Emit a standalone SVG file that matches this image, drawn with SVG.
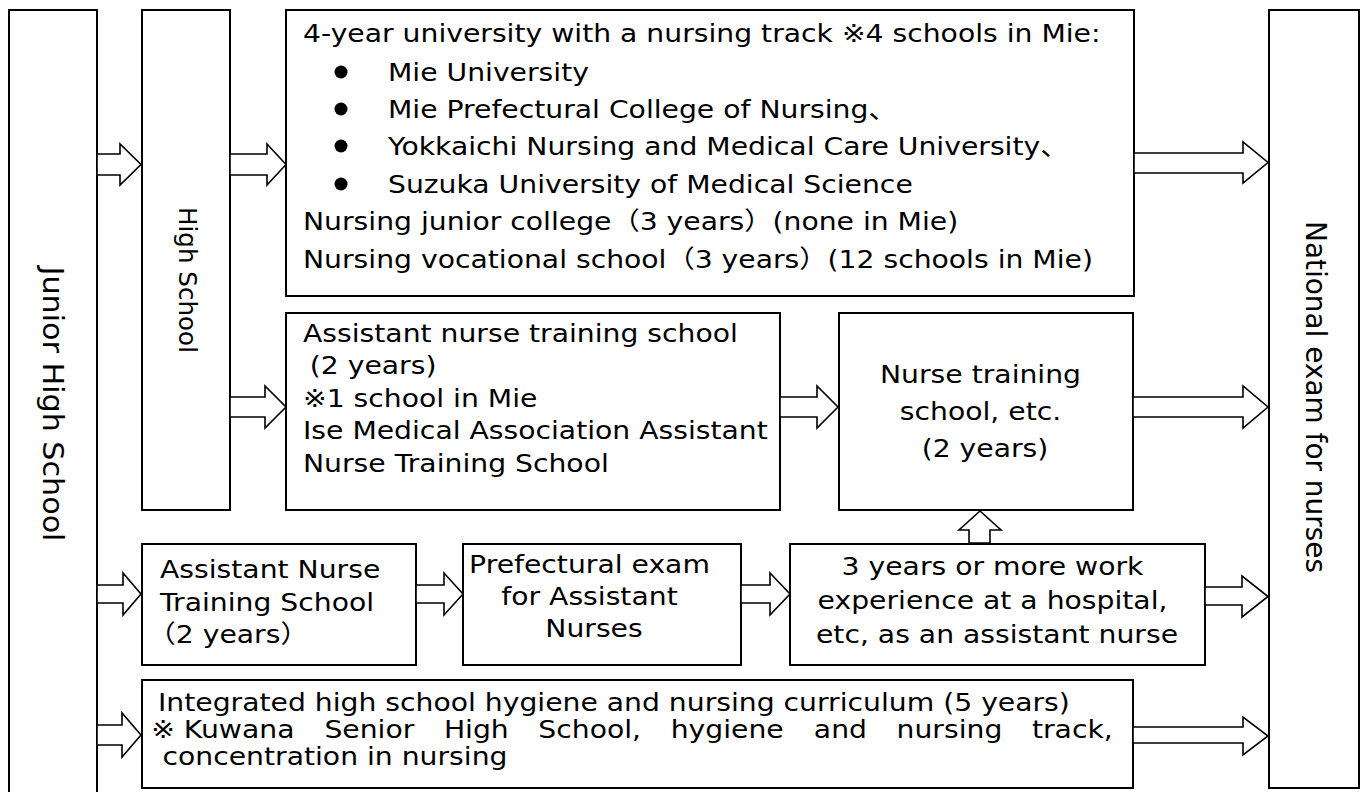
<svg xmlns="http://www.w3.org/2000/svg" width="1365" height="792" viewBox="0 0 1365 792">
<style>
.box{fill:#fff;stroke:#000;stroke-width:2}
.arr{fill:#fff;stroke:#000;stroke-width:1.6;stroke-linejoin:miter}
.t{font-family:"DejaVu Sans","Noto Sans CJK JP",sans-serif;font-size:25px;fill:#000}
.v{font-family:"DejaVu Sans","Noto Sans CJK JP",sans-serif;fill:#000;text-anchor:middle;dominant-baseline:central}
.c{text-anchor:middle}
</style>
<rect width="1365" height="792" fill="#fff"/>

<g id="junior-high">
<rect class="box" x="9" y="10" width="88" height="800"/>
<text class="v" font-size="29" transform="translate(53,404) rotate(90)" textLength="275" lengthAdjust="spacingAndGlyphs">Junior High School</text>
</g>

<g id="high-school">
<rect class="box" x="142" y="10" width="88" height="500"/>
<text class="v" font-size="25" transform="translate(187,280) rotate(90)" textLength="146" lengthAdjust="spacingAndGlyphs">High School</text>
</g>

<g id="university">
<rect class="box" x="286" y="10" width="848" height="286"/>
<circle cx="341" cy="72" r="6.5"/>
<circle cx="341" cy="109" r="6.5"/>
<circle cx="341" cy="146" r="6.5"/>
<circle cx="341" cy="184" r="6.5"/>
<text class="t" transform="translate(303,0) scale(1.13,1)">
<tspan x="0" y="42">4-year university with a nursing track ※4 schools in Mie:</tspan>
<tspan x="75.2" y="81">Mie University</tspan>
<tspan x="75.2" y="118">Mie Prefectural College of Nursing、</tspan>
<tspan x="75.2" y="155">Yokkaichi Nursing and Medical Care University、</tspan>
<tspan x="75.2" y="193">Suzuka University of Medical Science</tspan>
<tspan x="0" y="230">Nursing junior college（3 years）(none in Mie)</tspan>
<tspan x="0" y="268">Nursing vocational school（3 years）(12 schools in Mie)</tspan>
</text>
</g>

<g id="assistant-nurse-school-hs">
<rect class="box" x="286" y="313" width="494" height="197"/>
<text class="t" transform="translate(303,0) scale(1.13,1)">
<tspan x="0" y="342">Assistant nurse training school</tspan>
<tspan x="6" y="374">(2 years)</tspan>
<tspan x="0" y="407">※1 school in Mie</tspan>
<tspan x="0" y="439">Ise Medical Association Assistant</tspan>
<tspan x="0" y="472">Nurse Training School</tspan>
</text>
</g>

<g id="nurse-training-school">
<rect class="box" x="839" y="313" width="294" height="197"/>
<text class="t c" transform="translate(985,0) scale(1.13,1)">
<tspan x="0" y="383">Nurse training</tspan>
<tspan x="0" y="420">school, etc.</tspan>
<tspan x="0" y="457">(2 years)</tspan>
</text>
</g>

<g id="national-exam">
<rect class="box" x="1269" y="10" width="90" height="778"/>
<text class="v" font-size="28" transform="translate(1315,397) rotate(90)" textLength="352" lengthAdjust="spacingAndGlyphs">National exam for nurses</text>
</g>

<g id="assistant-nurse-school-jhs">
<rect class="box" x="142" y="544" width="274" height="121"/>
<text class="t" transform="translate(160,0) scale(1.13,1)">
<tspan x="0" y="578">Assistant Nurse</tspan>
<tspan x="0" y="611">Training School</tspan>
<tspan x="-11" y="643">（2 years）</tspan>
</text>
</g>

<g id="prefectural-exam">
<rect class="box" x="463" y="544" width="278" height="121"/>
<text class="t c" transform="translate(594,0) scale(1.13,1)">
<tspan x="0" y="573">Prefectural exam</tspan>
<tspan x="0" y="605">for Assistant</tspan>
<tspan x="0" y="637">Nurses</tspan>
</text>
</g>

<g id="work-experience">
<rect class="box" x="790" y="544" width="415" height="121"/>
<text class="t c" transform="translate(997,0) scale(1.13,1)">
<tspan x="0" y="575">3 years or more work</tspan>
<tspan x="0" y="609">experience at a hospital,</tspan>
<tspan x="0" y="643">etc, as an assistant nurse</tspan>
</text>
</g>

<g id="integrated-curriculum">
<rect class="box" x="142" y="680" width="991" height="108"/>
<text class="t" transform="translate(158,0) scale(1.13,1)">
<tspan x="0" y="711">Integrated high school hygiene and nursing curriculum (5 years)</tspan>
<tspan x="-6" y="738">※ Kuwana </tspan><tspan x="147.3" y="738">Senior </tspan><tspan x="253" y="738">High </tspan><tspan x="336.6" y="738">School, </tspan><tspan x="453.7" y="738">hygiene </tspan><tspan x="580.4" y="738">and </tspan><tspan x="653.6" y="738">nursing </tspan><tspan x="773.4" y="738">track,</tspan>
<tspan x="4" y="765">concentration in nursing</tspan>
</text>
</g>

<g id="connectors">
<polygon class="arr" points="97,154 120,154 120,144 141,164.5 120,185 120,175 97,175"/>
<polygon class="arr" points="230,154 267,154 267,144 286,164.5 267,185 267,175 230,175"/>
<polygon class="arr" points="1134,153 1243,153 1243,142 1268,162.5 1243,183 1243,173 1134,173"/>
<polygon class="arr" points="230,397 265,397 265,386 286,407 265,428 265,417 230,417"/>
<polygon class="arr" points="780,397 817,397 817,386 838,407 817,428 817,417 780,417"/>
<polygon class="arr" points="1133,397 1243,397 1243,386 1268,407 1243,428 1243,417 1133,417"/>
<polygon class="arr" points="97,585 123,585 123,573 141,594 123,615 123,603 97,603"/>
<polygon class="arr" points="416,585 444,585 444,573 463,594 444,615 444,603 416,603"/>
<polygon class="arr" points="741,585 770,585 770,573 790,594 770,615 770,603 741,603"/>
<polygon class="arr" points="1205,587 1242,587 1242,576 1268,596.5 1242,617 1242,605 1205,605"/>
<polygon class="arr" points="97,725 122,725 122,713 141,735 122,757 122,745 97,745"/>
<polygon class="arr" points="1133,727 1243,727 1243,717 1268,736 1243,755 1243,743 1133,743"/>
<polygon class="arr" points="969,543 969,530 959,530 980,511 1001,530 990,530 990,543"/>
</g>
</svg>
